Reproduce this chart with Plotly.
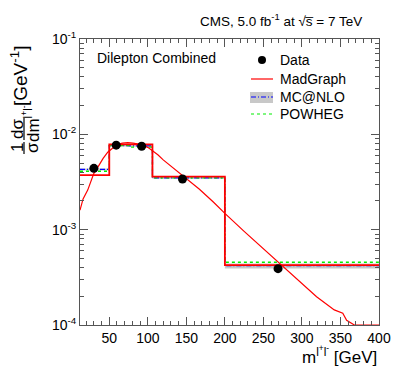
import plotly.graph_objects as go

# bin edges of m(l+l-) [GeV]
bin_edges = [12, 50, 76, 106, 200, 400]

# measured data (points drawn at bin centres used in the paper)
data_x = [30, 59, 92, 145, 269]
data_y = [4.4e-3, 7.7e-3, 7.5e-3, 3.4e-3, 3.9e-4]

# predictions per bin
madgraph = [3.74e-3, 7.85e-3, 7.85e-3, 3.6e-3, 4.25e-4]
mcatnlo = [4.28e-3, 7.6e-3, 7.55e-3, 3.5e-3, 4.2e-4]
mcatnlo_lo = [4.18e-3, 7.45e-3, 7.4e-3, 3.43e-3, 3.92e-4]
mcatnlo_hi = [4.38e-3, 7.75e-3, 7.7e-3, 3.57e-3, 4.43e-4]
powheg = [4.1e-3, 7.6e-3, 7.35e-3, 3.5e-3, 4.55e-4]

# MadGraph fine-binned curve
curve_x = [12, 16, 22, 30, 35, 42, 48, 54, 60, 67, 74, 81, 88, 100, 113, 120,
           137, 150, 167, 185, 200, 225, 250, 270, 295, 319, 342, 353, 358,
           368, 375, 400]
curve_y = [1.6e-3, 2.1e-3, 2.6e-3, 3.9e-3, 4.5e-3, 5.6e-3, 6.5e-3, 7.2e-3,
           7.8e-3, 8.1e-3, 8.2e-3, 8.1e-3, 7.9e-3, 7.3e-3, 6.1e-3, 5.4e-3,
           4.2e-3, 3.45e-3, 2.65e-3, 1.95e-3, 1.48e-3, 9.6e-4, 6.3e-4,
           4.5e-4, 2.95e-4, 1.98e-4, 1.44e-4, 1.33e-4, 1.12e-4, 1.0e-4,
           1.0e-4, 1.0e-4]

y_ticks = [1e-4, 1e-3, 1e-2, 1e-1]
y_ticktext = ['10<sup>-4</sup>', '10<sup>-3</sup>', '10<sup>-2</sup>', '10<sup>-1</sup>']
x_ticks = [50, 100, 150, 200, 250, 300, 350, 400]


def step(vals):
    return vals + [vals[-1]]


FONT = 'Liberation Sans, Arial, sans-serif'
OFF = 8  # page body margin
L, R, T, B = 72, 20, 31, 58
W, H = 399 - OFF, 383 - OFF
PW, PH = W - L - R, H - T - B


def px(x):
    return (x - OFF - L) / PW


def py(y):
    return (OFF + T + PH - y) / PH


fig = go.Figure()

# MC@NLO uncertainty band
fig.add_trace(go.Scatter(x=bin_edges, y=step(mcatnlo_lo), line_shape='hv',
                         mode='lines', line=dict(width=0), showlegend=False))
fig.add_trace(go.Scatter(x=bin_edges, y=step(mcatnlo_hi), line_shape='hv',
                         mode='lines', line=dict(width=0), fill='tonexty',
                         fillcolor='rgba(190,190,190,0.85)', showlegend=False))
fig.add_trace(go.Scatter(x=bin_edges, y=step(mcatnlo), line_shape='hv', mode='lines',
                         line=dict(color='#0000ff', width=1.3, dash='5px,2px,1px,2px'),
                         showlegend=False))
fig.add_trace(go.Scatter(x=bin_edges, y=step(powheg), line_shape='hv', mode='lines',
                         line=dict(color='#00ee00', width=1.3, dash='3px,3px'),
                         showlegend=False))
fig.add_trace(go.Scatter(x=bin_edges, y=step(madgraph), line_shape='hv', mode='lines',
                         line=dict(color='#ff0000', width=1.8), showlegend=False))
fig.add_trace(go.Scatter(x=curve_x, y=curve_y, mode='lines',
                         line=dict(color='#ff0000', width=1.2), showlegend=False))
fig.add_trace(go.Scatter(x=data_x, y=data_y, mode='markers',
                         marker=dict(color='black', size=9), showlegend=False))

axis_common = dict(ticks='inside', mirror='ticks', showline=True, linecolor='#555555',
                   linewidth=1, tickcolor='#555555', showgrid=False, zeroline=False,
                   automargin=False,
                   tickfont=dict(family=FONT, size=14, color='black'))

fig.update_xaxes(range=[12, 400], tickvals=x_ticks, ticklen=8,
                 minor=dict(dtick=10, tick0=0, ticklen=4, ticks='inside', tickcolor='#555555'),
                 **axis_common)
fig.update_yaxes(type='log', range=[-4, -1], tickvals=y_ticks, ticktext=y_ticktext, ticklen=8,
                 minor=dict(ticks='inside', ticklen=4, tickcolor='#555555',
                            tickvals=[m * 10 ** e for e in (-4, -3, -2) for m in range(2, 10)]),
                 **axis_common)

ann = []
ann.append(dict(text='CMS, 5.0 fb<sup>-1</sup> at √s̅ = 7 TeV',
                x=px(364), y=py(20), xanchor='right', yanchor='middle',
                font=dict(size=13.5)))
ann.append(dict(text='Dilepton Combined', x=px(95), y=py(58), xanchor='left',
                yanchor='middle', font=dict(size=14)))
ann.append(dict(text='m<sup>l<sup>+</sup>l<sup>-</sup></sup> [GeV]', x=px(379), y=py(355),
                xanchor='right', yanchor='middle', font=dict(size=17)))
# y-axis title built as rotated fractions
ann.append(dict(text='1', x=px(17), y=py(148), textangle=-90, font=dict(size=17)))
ann.append(dict(text='σ', x=px(32), y=py(148), textangle=-90, font=dict(size=17)))
ann.append(dict(text='dσ', x=px(17), y=py(129), textangle=-90, font=dict(size=17)))
ann.append(dict(text='dm<sup>l<sup>+</sup>l<sup>-</sup></sup>', x=px(31), y=py(124),
                textangle=-90, font=dict(size=17)))
ann.append(dict(text='[GeV<sup>-1</sup>]', x=px(19), y=py(76), textangle=-90,
                font=dict(size=19)))

# legend
leg_rows = [('Data', 60), ('MadGraph', 79), ('MC@NLO', 97), ('POWHEG', 114)]
for name, yy in leg_rows:
    ann.append(dict(text=name, x=px(278), y=py(yy), xanchor='left', yanchor='middle',
                    font=dict(size=14)))
for a in ann:
    a.update(xref='paper', yref='paper', showarrow=False)
    a.setdefault('xanchor', 'center')
    a.setdefault('yanchor', 'middle')
    a['font'].update(family=FONT, color='black')

shapes = [
    dict(type='line', x0=px(24), x1=px(24), y0=py(142), y1=py(154), line=dict(width=1.2, color='black')),
    dict(type='line', x0=px(24), x1=px(24), y0=py(118), y1=py(140), line=dict(width=1.2, color='black')),
    dict(type='circle', x0=px(258), x1=px(266), y0=py(56), y1=py(64),
         fillcolor='black', line=dict(width=0)),
    dict(type='line', x0=px(251), x1=px(273), y0=py(79), y1=py(79), line=dict(color='#ff0000', width=1.2)),
    dict(type='rect', x0=px(250), x1=px(273), y0=py(92), y1=py(103),
         fillcolor='rgba(200,200,200,1)', line=dict(width=0)),
    dict(type='line', x0=px(251), x1=px(273), y0=py(97), y1=py(97),
         line=dict(color='#0000ff', width=1.2, dash='5px,2px,1px,2px')),
    dict(type='line', x0=px(251), x1=px(273), y0=py(114), y1=py(114),
         line=dict(color='#00ee00', width=1.2, dash='3px,3px')),
]
for s in shapes:
    s.update(xref='paper', yref='paper')

fig.update_layout(width=W, height=H, margin=dict(l=L, r=R, t=T, b=B),
                  plot_bgcolor='white', paper_bgcolor='white',
                  font=dict(family=FONT, color='black'),
                  annotations=ann, shapes=shapes, showlegend=False)

fig.write_html("out.html")
